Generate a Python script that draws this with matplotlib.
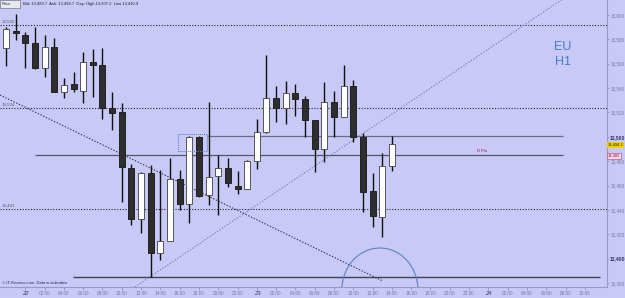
import numpy as np
import matplotlib
matplotlib.use('Agg')
import matplotlib.pyplot as plt
from matplotlib.patches import Ellipse, Rectangle

plt.rcParams['font.family'] = ['Liberation Sans', 'DejaVu Sans']

# hourly EU candles
opens = [13572.7, 13586.5, 13583.6, 13577.3, 13556.2, 13573.5, 13537.0, 13543.1, 13537.8, 13561.7,
         13559.0, 13523.4, 13520.6, 13474.6, 13432.3, 13470.5, 13404.4, 13414.4, 13465.1, 13444.6,
         13500.1, 13452.2, 13467.8, 13474.1, 13459.9, 13456.9, 13480.4, 13504.2, 13531.6, 13523.4,
         13535.7, 13531.0, 13513.8, 13489.7, 13528.3, 13516.5, 13541.7, 13499.6, 13455.5, 13434.4,
         13476.0]
closes = [13588.3, 13584.8, 13577.3, 13556.2, 13574.0, 13537.0, 13542.5, 13539.0, 13561.2, 13559.0,
          13523.4, 13519.8, 13474.9, 13432.3, 13470.5, 13404.4, 13414.4, 13465.4, 13444.6, 13500.1,
          13451.6, 13467.2, 13474.6, 13462.3, 13456.9, 13480.4, 13504.2, 13531.6, 13523.4, 13535.7,
          13531.0, 13513.8, 13489.7, 13528.3, 13516.5, 13541.7, 13500.1, 13454.9, 13435.2, 13476.3,
          13493.8]
highs = [13589.9, 13600.8, 13585.8, 13589.9, 13583.6, 13580.9, 13548.0, 13553.4, 13569.9, 13572.1,
         13572.7, 13537.0, 13528.0, 13477.7, 13471.3, 13476.8, 13472.7, 13482.8, 13472.7, 13500.9,
         13500.9, 13528.8, 13485.1, 13482.8, 13471.9, 13481.0, 13514.4, 13567.2, 13541.7, 13545.8,
         13543.3, 13533.5, 13513.8, 13545.2, 13537.6, 13559.0, 13546.6, 13502.9, 13470.0, 13486.9,
         13500.9]
lows = [13558.1, 13579.5, 13556.7, 13555.4, 13548.9, 13536.5, 13531.6, 13537.0, 13527.5, 13532.9,
        13514.4, 13505.6, 13446.7, 13427.6, 13420.8, 13385.1, 13398.9, 13414.4, 13439.9, 13428.9,
        13450.3, 13444.0, 13435.8, 13458.5, 13453.0, 13456.9, 13473.3, 13502.9, 13512.4, 13510.5,
        13517.1, 13500.1, 13471.3, 13479.6, 13500.1, 13516.5, 13496.0, 13438.5, 13425.7, 13418.0,
        13471.9]

x_labels = ['22', '02:00', '04:00', '06:00', '08:00', '10:00', '12:00', '14:00', '16:00', '18:00',
            '20:00', '22:00', '23', '02:00', '04:00', '06:00', '08:00', '10:00', '12:00', '14:00',
            '16:00', '18:00', '20:00', '22:00', '24', '02:00', '04:00', '06:00', '08:00', '10:00']
y_ticks = [13380, 13400, 13420, 13440, 13460, 13480, 13500, 13520, 13540, 13560, 13580, 13600]

dotted_levels = [13592, 13524, 13441]
bg = '#C9C9F7'

fig = plt.figure(figsize=(6.25, 2.98), dpi=100, facecolor=bg)
ax = fig.add_axes([0, 11 / 298, 607 / 625, 287 / 298])
ax.set_facecolor(bg)

x = np.arange(len(opens))
o = np.array(opens)
c = np.array(closes)
up = c >= o
body_lo = np.minimum(o, c)
body_h = np.maximum(np.abs(c - o), 1.2)

ax.vlines(x, lows, highs, color='#111111', lw=1.0, zorder=3)
ax.bar(x[up], body_h[up], bottom=body_lo[up], width=0.62, color='white',
       edgecolor='#555555', lw=0.7, zorder=4)
ax.bar(x[~up], body_h[~up], bottom=body_lo[~up], width=0.62, color='#2e2e2e',
       edgecolor='#222222', lw=0.7, zorder=4)

# horizontal levels
for lv in dotted_levels:
    ax.axhline(lv, color='#222233', lw=0.8, ls=(0, (1, 1.5)), zorder=2)
    ax.text(-0.4, lv + 0.8, f'{lv:,}', fontsize=3.2, color='#555566', va='bottom', ha='left')

ax.hlines(13501, 20.8, 57.7, color='#6a6a80', lw=0.9, zorder=2)
ax.hlines(13485, 3.0, 57.7, color='#55556a', lw=0.9, zorder=2)
ax.hlines(13385.3, 6.9, 61.6, color='#404055', lw=1.0, zorder=2)
ax.text(48.8, 13486.5, 'D Pin', fontsize=3, color='#a01030', va='bottom', ha='left')

# trend lines
ax.plot([-0.62, 39.07], [13534.3, 13381.6], color='#303050', lw=0.8, ls=(0, (1.2, 1.5)), zorder=2)
ax.plot([13.37, 57.57], [13376.7, 13612.3], color='#8080b0', lw=0.8, ls=(0, (1.2, 1.5)), zorder=2)

ax.add_patch(Rectangle((17.85, 13488.0), 3.0, 14.5, fill=False, ec='#5577cc', lw=0.7,
                       ls=(0, (1, 1)), zorder=5))
ax.add_patch(Ellipse((38.76, 13374.2), 7.9, 69.0, fill=False, ec='#6080c0', lw=0.8, zorder=5))

ax.set_xlim(-0.62, 62.3)
ax.set_ylim(13376.7, 13612.3)

ax.yaxis.tick_right()
ax.set_yticks(y_ticks)
ax.set_yticklabels([f'{t:,}' for t in y_ticks])
ax.tick_params(axis='y', length=1.5, width=0.5, color='#8888aa', labelsize=3.3,
               labelcolor='#7777aa', pad=0.8)
for lbl, t in zip(ax.get_yticklabels(), y_ticks):
    if t in (13400, 13500):
        lbl.set_color('#333366')
        lbl.set_fontsize(3.6)
        lbl.set_fontweight('bold')

ax.set_xticks([2 + 2 * i for i in range(len(x_labels))])
ax.set_xticklabels(x_labels)
ax.tick_params(axis='x', length=2, width=0.5, color='#8888aa', labelsize=3.4,
               labelcolor='#7777aa', pad=1)
for lbl in ax.get_xticklabels():
    if len(lbl.get_text()) == 2:
        lbl.set_color('#333366')
        lbl.set_fontsize(4.2)
        lbl.set_fontstyle('italic')

for s in ['top', 'left']:
    ax.spines[s].set_visible(False)
ax.spines['right'].set_color('#9a9ac0')
ax.spines['bottom'].set_color('#9a9ac0')
ax.spines['right'].set_linewidth(0.8)
ax.spines['bottom'].set_linewidth(0.8)

ax.text(0.927, 0.81, 'EU\nH1', transform=ax.transAxes, fontsize=9, color='#4a7cc8',
        ha='center', va='center', linespacing=1.35)

# header and footer
fig.patches.append(Rectangle((0, 290 / 298), 20 / 625, 8 / 298, transform=fig.transFigure,
                             fc='#e8e8f0', ec='#777788', lw=0.5))
fig.text(1.5 / 625, 294 / 298, 'Price', fontsize=3, color='#333333', va='center')
fig.text(23 / 625, 294 / 298, 'Bid: 13,493.7  Ask: 13,494.7  Day: High 13,507.2  Low 13,410.9',
         fontsize=3, color='#222222', va='center')
fig.text(2 / 625, 15 / 298, '\u00a9 IT-Finance.com  Data is indicative', fontsize=3,
         color='#222244', style='italic', va='center')

# price tags
fig.text(608 / 625, (298 - 145) / 298, '13,494.2', fontsize=2.9, color='#222222',
         va='center', bbox=dict(fc='#f0d000', ec='none', pad=0.5))
fig.text(608 / 625, (298 - 156) / 298, '13,485', fontsize=2.9, color='#b01030', va='center',
         bbox=dict(fc='#e8d8f0', ec='#c04060', lw=0.4, pad=0.5))

plt.savefig('out.png', dpi=100, facecolor=bg)
